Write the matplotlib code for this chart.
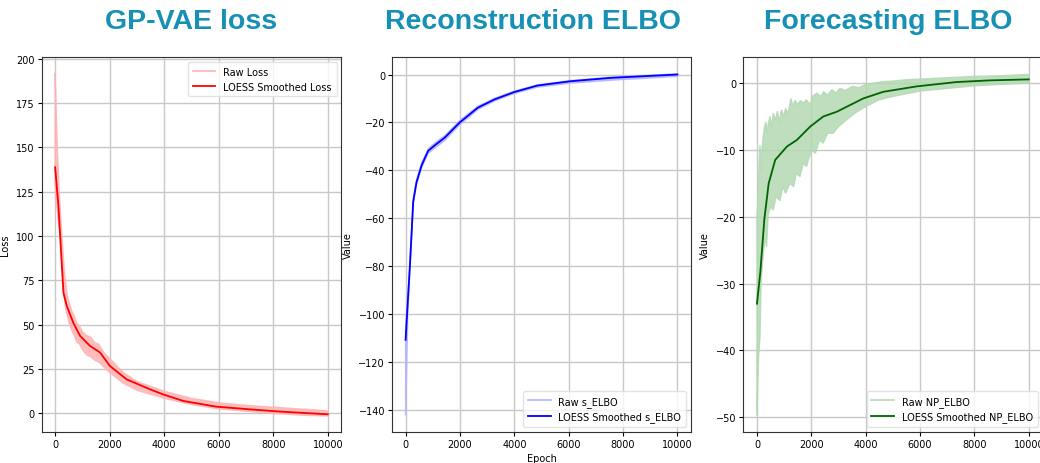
import numpy as np
import matplotlib
matplotlib.use("Agg")
import matplotlib.pyplot as plt

# ---- GP-VAE loss ----
loss_epochs = [0, 120, 305, 427, 670, 915, 1280, 1650, 2010, 2620, 3475, 3960, 4700, 5900, 7130, 8350, 10000]
loss_smooth = [138.8, 117, 68, 60.6, 51, 43.7, 38, 34.3, 26.7, 19.2, 13.6, 10.7, 7, 3.8, 2.3, 0.9, -0.5]
loss_hi_ep = [0, 20, 40, 80, 150, 250, 350, 450, 600, 700, 800, 900, 1000, 1150, 1300, 1450, 1600, 1800,
              2000, 2500, 3000, 4000, 5000, 6000, 7000, 8000, 9000, 10000]
loss_hi = [192, 182, 170, 150, 125, 100, 78, 66, 58, 55, 51, 49, 46, 44, 43, 40, 39, 34,
           31, 23, 18, 12.5, 8.5, 6, 4.5, 3.5, 2.5, 1.5]
loss_lo_ep = [0, 100, 200, 300, 400, 500, 600, 700, 800, 900, 1000, 1150, 1300, 1450, 1600, 1800,
              2000, 2500, 3000, 4000, 5000, 6000, 7000, 8000, 9000, 10000]
loss_lo = [128, 110, 98, 70, 58, 52, 47, 44, 40, 39, 36, 33, 32, 30, 29, 26,
           23, 17, 13, 8.5, 5, 2.5, 1.2, 0, -1, -1.5]

# ---- Reconstruction ELBO ----
s_epochs = [0, 160, 280, 400, 585, 830, 1130, 1440, 1990, 2660, 3270, 4000, 4850, 6070, 7540, 8760, 10000]
s_smooth = [-110.6, -79.5, -53, -45, -38, -31.8, -29, -26.3, -20, -13.8, -10.4, -7.3, -4.6, -2.8, -1.4, -0.7, 0]
s_hi_ep = [0, 30, 80, 160, 280, 400, 585, 830, 1130, 1440, 1990, 2660, 3270, 4000, 4850, 6070, 7540, 8760, 10000]
s_hi = [-105, -100, -92, -78.5, -52, -44, -37, -31, -28, -25.5, -19.2, -13.2, -9.9, -6.9, -4.3, -2.5, -1.1, -0.4, 0.3]
s_lo_ep = s_hi_ep
s_lo = [-142, -128, -100, -81, -54, -46, -39, -32.8, -30.2, -27.5, -21, -14.6, -11, -7.9, -5.3, -3.6, -2.4, -1.6, -0.8]

# ---- Forecasting ELBO ----
np_epochs = [0, 122, 270, 430, 670, 1100, 1470, 1960, 2440, 2930, 3910, 4650, 5870, 7330, 8560, 10000]
np_smooth = [-33, -28.3, -20.4, -15, -11.5, -9.5, -8.5, -6.5, -5, -4.3, -2.3, -1.3, -0.5, 0.15, 0.4, 0.55]
np_hi_ep = [0, 40, 80, 110, 140, 180, 230, 280, 330, 370, 420, 480, 540, 600, 680, 750, 820, 900, 980,
            1050, 1150, 1250, 1320, 1400, 1500, 1600, 1700, 1820, 1950, 2050, 2200, 2350, 2450, 2600,
            2750, 2900, 3050, 3250, 3500, 3750, 4000, 4300, 4600, 5000, 5500, 6000, 7000, 8000, 9000, 10000]
np_hi = [-20, -17, -12, -9.3, -13, -10, -8, -6.5, -5.8, -7.5, -6, -5, -6.5, -4.5, -5.5, -4.2, -5.8, -4, -5,
         -3.8, -4.5, -2.3, -3.5, -2.6, -3.2, -2.6, -3, -2.5, -3.2, -2, -1.5, -2, -1.3, -1.8,
         -1, -1.5, -0.8, -1.1, -0.5, -0.7, -0.2, 0, 0.2, 0.3, 0.5, 0.6, 0.8, 1.0, 1.1, 1.3]
np_lo_ep = [0, 30, 60, 110, 150, 200, 250, 300, 350, 415, 500, 600, 700, 845, 950, 1050, 1210, 1350,
            1450, 1580, 1700, 1820, 2000, 2150, 2300, 2430, 2600, 2800, 3000, 3300, 3600, 4000, 4500,
            5000, 6000, 7000, 8000, 9000, 10000]
np_lo = [-49.7, -45, -41, -38, -30, -27, -25, -23, -24.5, -19.6, -18.5, -19, -17, -17.6, -15.5, -16.5, -15, -15.5,
         -13.5, -14, -12, -12.5, -10, -10.5, -8.5, -9, -7.5, -7.5, -6.5, -5.5, -4.5, -3.5, -2.5,
         -2, -1.2, -0.8, -0.4, -0.2, 0]

titles = ["GP-VAE loss", "Reconstruction ELBO", "Forecasting ELBO"]
title_x = [191, 533, 888]

W, H = 1040, 464
fig = plt.figure(figsize=(W / 100, H / 100), dpi=100)


def add_ax(left, top, width, height):
    return fig.add_axes([left / W, 1 - (top + height) / H, width / W, height / H])


def panel(ax, ep, sm, hi_ep, hi, lo_ep, lo, c_raw, c_sm, raw_lab, sm_lab, loc):
    # raw curve drawn as the band between its upper and lower spikes
    xs = np.r_[hi_ep, lo_ep[::-1]]
    ys = np.r_[hi, lo[::-1]]
    ax.fill(xs, ys, fc=c_raw, ec=c_raw, lw=1.0, alpha=0.85, zorder=1.5)
    ax.plot([], [], color=c_raw, lw=1.2, label=raw_lab)
    ax.plot(ep, sm, color=c_sm, lw=1.3, label=sm_lab, zorder=3)
    ax.grid(True, color="#c8c8c8", lw=1)
    ax.set_axisbelow(True)
    ax.tick_params(labelsize=7, length=3, width=0.8, pad=2)
    ax.set_xlim(-500, 10500)
    ax.set_xticks([0, 2000, 4000, 6000, 8000, 10000])
    for s in ax.spines.values():
        s.set_color("#333333")
    ax.legend(loc=loc, fontsize=7, frameon=True, framealpha=0.8,
              borderpad=0.5, handlelength=2.3, edgecolor="#dddddd", fancybox=True)


ax1 = add_ax(41.5, 58, 300, 375)
panel(ax1, loss_epochs, loss_smooth, loss_hi_ep, loss_hi, loss_lo_ep, loss_lo,
      "#ffb3b3", "red", "Raw Loss", "LOESS Smoothed Loss", "upper right")
ax1.set_ylim(-10.5, 201)
ax1.set_ylabel("Loss", fontsize=7, labelpad=4)

ax2 = add_ax(392, 58, 299, 375)
panel(ax2, s_epochs, s_smooth, s_hi_ep, s_hi, s_lo_ep, s_lo,
      "#b3b3ff", "blue", "Raw s_ELBO", "LOESS Smoothed s_ELBO", "lower right")
ax2.set_ylim(-149, 7.3)
ax2.set_ylabel("Value", fontsize=7, labelpad=4)
ax2.set_xlabel("Epoch", fontsize=7, labelpad=3)

ax3 = add_ax(743.4, 58, 299, 375)
panel(ax3, np_epochs, np_smooth, np_hi_ep, np_hi, np_lo_ep, np_lo,
      "#b3d9b3", "darkgreen", "Raw NP_ELBO", "LOESS Smoothed NP_ELBO", "lower right")
ax3.set_ylim(-52.2, 3.9)
ax3.set_ylabel("Value", fontsize=7, labelpad=4)

for t, x in zip(titles, title_x):
    fig.text(x / W, 1 - 22 / H, t, ha="center", va="center", fontsize=20.5,
             fontweight="bold", family="Liberation Sans", color="#1690b4")

fig.savefig("out.png", dpi=100)
